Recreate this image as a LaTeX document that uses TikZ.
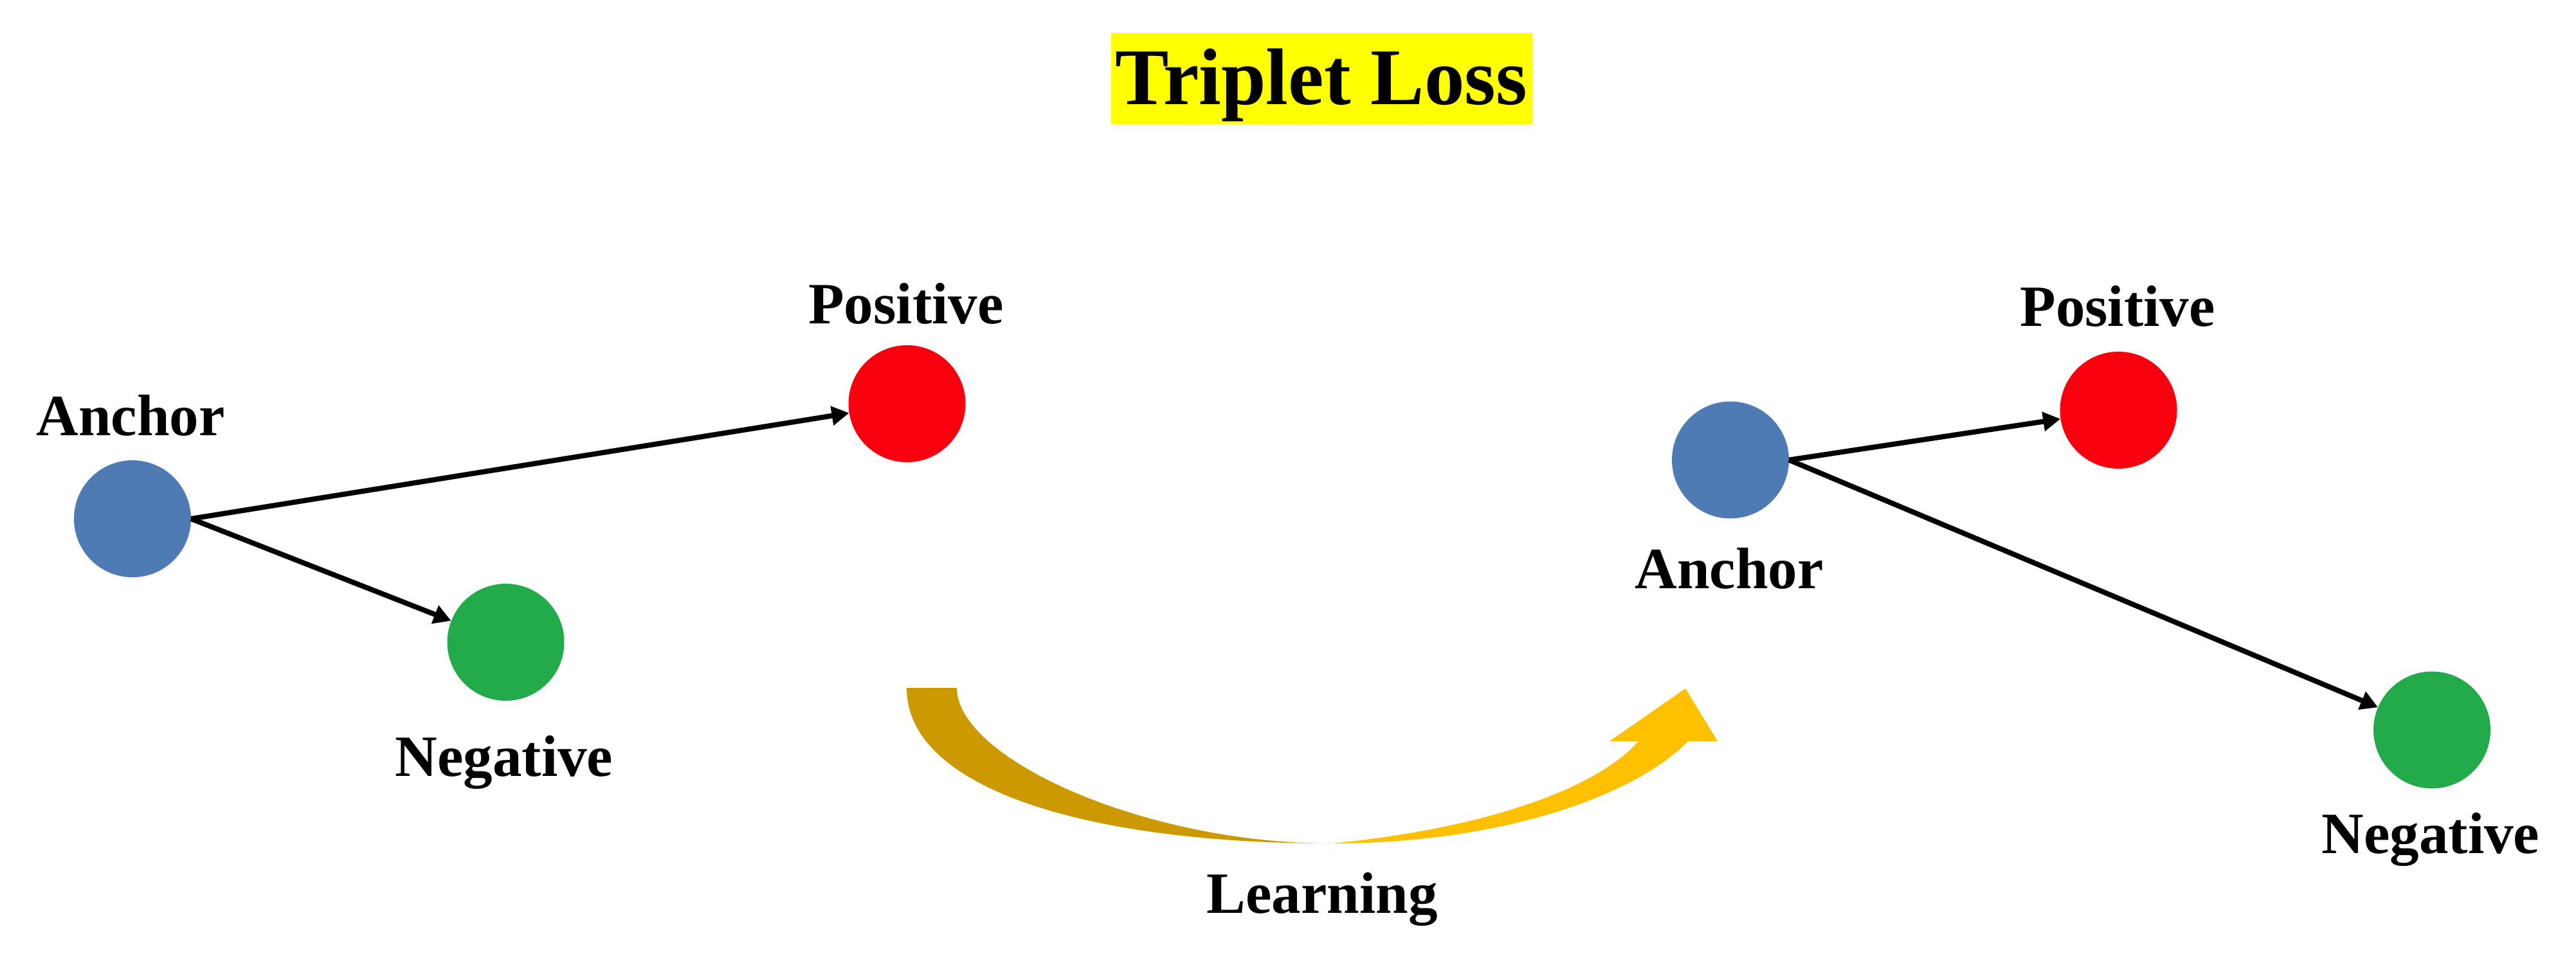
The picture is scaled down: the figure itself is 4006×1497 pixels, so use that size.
\documentclass[tikz,border=0pt]{standalone}
\usepackage{fontspec}
\setmainfont{Liberation Serif}
\usetikzlibrary{arrows.meta}

\definecolor{anchorblue}{HTML}{4F7BB5}
\definecolor{posred}{HTML}{F8000E}
\definecolor{neggreen}{HTML}{22AA4B}
\definecolor{golddark}{HTML}{CC9A00}
\definecolor{goldlight}{HTML}{FFC000}
\definecolor{titleyellow}{HTML}{FFFF00}

\begin{document}
\begin{tikzpicture}[x=1pt,y=-1pt,
  dot/.style={circle,inner sep=0pt,minimum size=182pt,draw=none},
  lbl/.style={anchor=base,inner sep=0pt,font=\fontsize{91}{110}\selectfont\bfseries},
  pull/.style={line width=8pt,-{Triangle[length=27pt,width=29pt]}}]
\useasboundingbox (0,0) rectangle (4006,1497);

% title
\node[fill=titleyellow,minimum width=655pt,minimum height=142pt,inner sep=0pt] (titlebox) at (2055.5,122) {};
\node[anchor=base,inner sep=0pt,font=\fontsize{125}{150}\selectfont\bfseries] (title) at (2055,162) {Triplet Loss};

% before learning
\node[dot,fill=anchorblue] (a1) at (206,807) {};
\node[dot,fill=posred] (p1) at (1410.5,628) {};
\node[dot,fill=neggreen] (n1) at (786.5,999) {};
\node[lbl] (a1l) at (203,677) {Anchor};
\node[lbl] (p1l) at (1409,503) {Positive};
\node[lbl] (n1l) at (784,1207) {Negative};
\draw[pull] (a1.east) -- (p1);
\draw[pull] (a1.east) -- (n1);

% after learning
\node[dot,fill=anchorblue] (a2) at (2691,715.5) {};
\node[dot,fill=posred] (p2) at (3294.5,638) {};
\node[dot,fill=neggreen] (n2) at (3782,1135.5) {};
\node[lbl] (a2l) at (2689,915) {Anchor};
\node[lbl] (p2l) at (3293,507) {Positive};
\node[lbl] (n2l) at (3780,1327) {Negative};
\draw[pull] (a2.east) -- (p2);
\draw[pull] (a2.east) -- (n2);

% curved learning arrow
\fill[golddark] (1410,1070) -- (1488,1070)
  .. controls (1488,1180) and (1780,1312) .. (2070,1312)
  .. controls (1700,1312) and (1410,1230) .. (1410,1070) -- cycle;
\fill[goldlight] (2070,1312)
  .. controls (2330,1312) and (2540,1240) .. (2625,1153)
  -- (2671,1153) -- (2621,1071) -- (2503,1153) -- (2548,1153)
  .. controls (2480,1230) and (2300,1290) .. (2070,1312) -- cycle;
\node[lbl] (learn) at (2056,1420) {Learning};
\end{tikzpicture}
\end{document}
